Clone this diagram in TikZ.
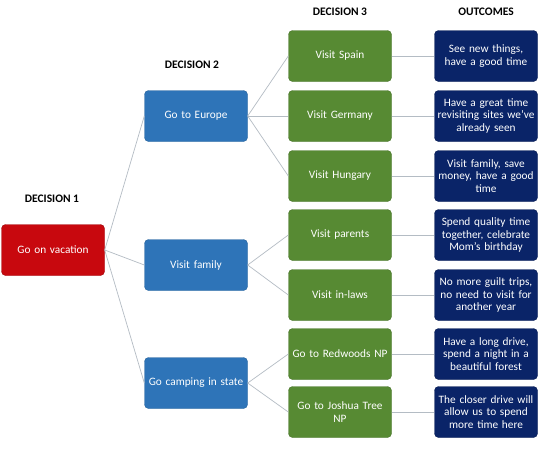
\documentclass[tikz,border=0pt]{standalone}
\usepackage{fontspec}
\setmainfont{Carlito}
\begin{document}
\begin{tikzpicture}[x=1pt,y=-1pt,
  box/.style={rounded corners=4pt, minimum width=103pt, minimum height=51pt, text=white, align=center, font=\fontsize{11.3}{12.6}\selectfont, inner sep=1pt, text width=101pt},
  redbox/.style={box, fill=red1, draw=red1!80!black},
  bluebox/.style={box, fill=blue1, draw=blue1!85!black},
  greenbox/.style={box, fill=green1, draw=green1!85!black},
  navybox/.style={box, fill=navy1, draw=navy1!80!black},
  head/.style={font=\bfseries\fontsize{11.5}{13}\selectfont, text=black},
  conn/.style={draw=line1, line width=0.7pt}]
\definecolor{red1}{HTML}{C8080E}
\definecolor{blue1}{HTML}{2E74B8}
\definecolor{green1}{HTML}{578A33}
\definecolor{navy1}{HTML}{0A2468}
\definecolor{line1}{HTML}{B4BCC4}
\useasboundingbox (0,0) rectangle (544,450);
\fill[white] (0,0) rectangle (544,450);

\node[head] (h1) at (52,199) {DECISION 1};
\node[head] (h2) at (192,65) {DECISION 2};
\node[head] (h3) at (340,12) {DECISION 3};
\node[head] (h4) at (486,12) {OUTCOMES};

\node[redbox] (vac) at (53,250) {Go on vacation};

\node[bluebox] (eu) at (196,116) {Go to Europe};
\node[bluebox] (fam) at (196,265) {Visit family};
\node[bluebox] (camp) at (196,383) {Go camping in state};

\node[greenbox] (sp) at (340,56) {Visit Spain};
\node[greenbox] (ge) at (340,116) {Visit Germany};
\node[greenbox] (hu) at (340,176) {Visit Hungary};
\node[greenbox] (pa) at (340,235) {Visit parents};
\node[greenbox] (il) at (340,295) {Visit in-laws};
\node[greenbox] (rw) at (340,354) {Go to Redwoods NP};
\node[greenbox] (jt) at (340,412) {Go to Joshua Tree\\NP};

\node[navybox] (o1) at (486,56) {See new things,\\have a good time};
\node[navybox] (o2) at (486,116) {Have a great time\\revisiting sites we've\\already seen};
\node[navybox] (o3) at (486,176) {Visit family, save\\money, have a good\\time};
\node[navybox] (o4) at (486,235) {Spend quality time\\together, celebrate\\Mom's birthday};
\node[navybox] (o5) at (486,295) {No more guilt trips,\\no need to visit for\\another year};
\node[navybox] (o6) at (486,354) {Have a long drive,\\spend a night in a\\beautiful forest};
\node[navybox] (o7) at (486,412) {The closer drive will\\allow us to spend\\more time here};

\foreach \a/\b in {vac/eu,vac/fam,vac/camp,eu/sp,eu/ge,eu/hu,fam/pa,fam/il,camp/rw,camp/jt,sp/o1,ge/o2,hu/o3,pa/o4,il/o5,rw/o6,jt/o7}
  \draw[conn] (\a.east) -- (\b.west);
\end{tikzpicture}
\end{document}
